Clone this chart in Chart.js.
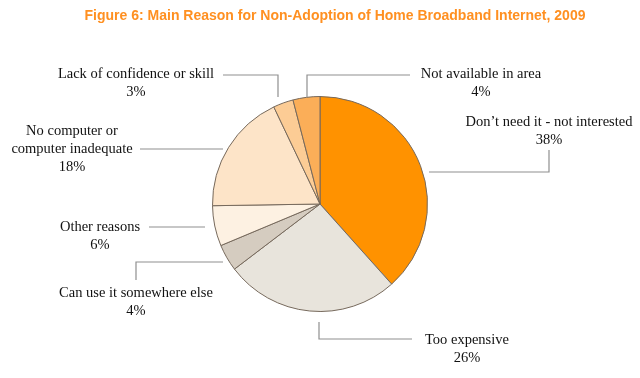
<!DOCTYPE html>
<html>
<head>
<meta charset="utf-8">
<script src="https://cdn.jsdelivr.net/npm/chart.js@4.4.0/dist/chart.umd.min.js"></script>
<style>
  html, body { margin: 0; padding: 0; background: #fff; }
  #wrap { width: 640px; height: 378px; position: relative; }
</style>
</head>
<body>
<div id="wrap"><canvas id="chart" width="640" height="378"></canvas></div>
<script>
// ---- data ----
const titleText = 'Figure 6: Main Reason for Non-Adoption of Home Broadband Internet, 2009';
const categories = [
    ['Don\u2019t need it - not interested'],
    ['Too expensive'],
    ['Can use it somewhere else'],
    ['Other reasons'],
    ['No computer or', 'computer inadequate'],
    ['Lack of confidence or skill'],
    ['Not available in area']
];
const shares = [38, 26, 4, 6, 18, 3, 4];
const sliceColors = ['#FF9200', '#E8E4DC', '#D5CCC0', '#FDF1E2', '#FDE4C8', '#FCCC95', '#FBAE58'];

// ---- label placement (text centre x, first line y, leader polyline) ----
const labelLayout = [
    { x: 549, y: 122, line: [[549, 150], [549, 172], [429, 172]] },
    { x: 467, y: 340, line: [[412, 339], [319, 339], [319, 322]] },
    { x: 136, y: 293, line: [[136, 280], [136, 262], [223, 262]] },
    { x: 100, y: 227, line: [[149, 227], [205, 227]] },
    { x: 72,  y: 131, line: [[140, 149], [223, 149]] },
    { x: 136, y: 74,  line: [[223, 75], [278, 75], [278, 97]] },
    { x: 481, y: 74,  line: [[410, 75], [307, 75], [307, 97]] }
];

const LABEL_FONT = '14.5px "Liberation Serif", "Times New Roman", serif';
const LINE_H = 18;

const pieLabels = {
    id: 'pieLabels',
    afterDraw(chart) {
        const ctx = chart.ctx;
        ctx.save();
        // title
        ctx.font = 'bold 14px "Liberation Sans", Arial, sans-serif';
        ctx.fillStyle = '#FF9021';
        ctx.textAlign = 'center';
        ctx.textBaseline = 'middle';
        ctx.fillText(titleText, 335, 16);

        // leader lines
        ctx.strokeStyle = '#8f8f8f';
        ctx.lineWidth = 1.2;
        labelLayout.forEach(l => {
            ctx.beginPath();
            l.line.forEach((p, i) => i ? ctx.lineTo(p[0], p[1]) : ctx.moveTo(p[0], p[1]));
            ctx.stroke();
        });

        // texts
        ctx.font = LABEL_FONT;
        ctx.fillStyle = '#111';
        categories.forEach((lines, i) => {
            const l = labelLayout[i];
            const all = lines.concat([shares[i] + '%']);
            all.forEach((t, j) => ctx.fillText(t, l.x, l.y + j * LINE_H));
        });
        ctx.restore();
    }
};

new Chart(document.getElementById('chart'), {
    type: 'pie',
    data: {
        labels: categories.map(c => c.join(' ')),
        datasets: [{
            data: shares,
            backgroundColor: sliceColors,
            borderColor: '#76695c',
            borderWidth: 1
        }]
    },
    options: {
        responsive: false,
        animation: false,
        layout: { padding: { left: 212, right: 212, top: 96, bottom: 66 } },
        plugins: {
            legend: { display: false },
            tooltip: { enabled: false }
        }
    },
    plugins: [pieLabels]
});
</script>
</body>
</html>
